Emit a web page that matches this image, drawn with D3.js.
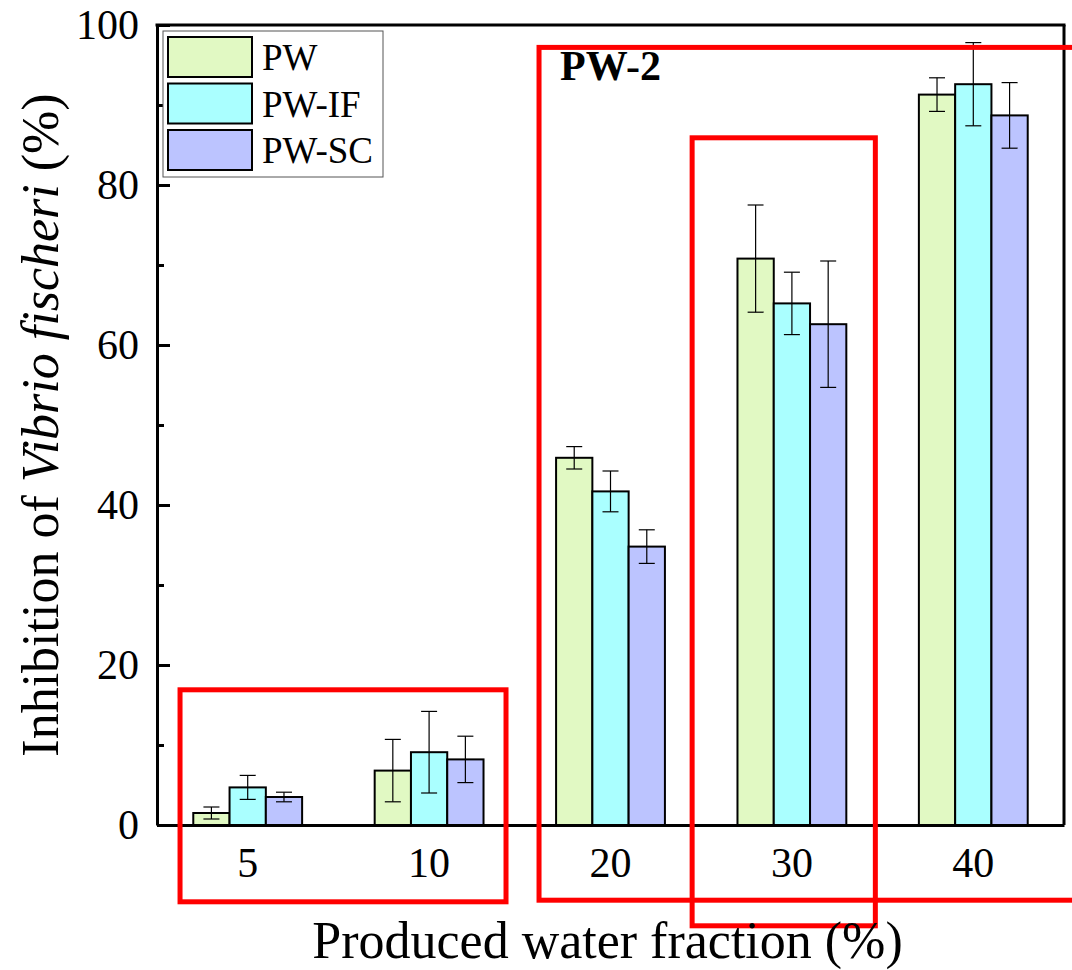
<!DOCTYPE html>
<html>
<head>
<meta charset="utf-8">
<script src="https://cdn.jsdelivr.net/npm/d3@7"></script>
<style>
  body { margin: 0; background: #fff; }
  svg { display: block; font-family: "Liberation Serif", "Times New Roman", serif; }
  svg text { font-family: "Liberation Serif", "Times New Roman", serif; }
</style>
</head>
<body>
<div id="chart"></div>
<script>
// fraction of produced water (%)
const categories = ["5", "10", "20", "30", "40"]
const seriesNames = ["PW", "PW-IF", "PW-SC"]

const pwValues = [1.5, 6.8, 45.9, 70.8, 91.3]
const pwErrors = [0.75, 3.9, 1.4, 6.7, 2.1]
const pwIfValues = [4.7, 9.1, 41.7, 65.2, 92.6]
const pwIfErrors = [1.5, 5.1, 2.55, 3.9, 5.2]
const pwScValues = [3.5, 8.2, 34.8, 62.6, 88.7]
const pwScErrors = [0.6, 2.9, 2.1, 7.9, 4.1]

const yMajorTicks = [0, 20, 40, 60, 80, 100]
const yMinorTicks = [10, 30, 50, 70, 90]

// highlight boxes, in category-index units (x) and data units (y)
const highlights = [
  { x0: 0.127, x1: 1.924, y0: -9.6, y1: 16.9 },
  { x0: 2.106, x1: 5.2, y0: -9.4, y1: 97.2 },
  { x0: 2.95, x1: 3.96, y0: -12.6, y1: 85.9 }
]

const colors = ["#e1f9c3", "#aaffff", "#bcc4ff"]

const width = 1072, height = 970
const margin = { top: 25, right: 8, bottom: 145, left: 157 }
const innerW = width - margin.left - margin.right
const innerH = height - margin.top - margin.bottom

const series = [
  { name: seriesNames[0], values: pwValues, errors: pwErrors },
  { name: seriesNames[1], values: pwIfValues, errors: pwIfErrors },
  { name: seriesNames[2], values: pwScValues, errors: pwScErrors }
]

const svg = d3.select("#chart").append("svg")
  .attr("width", width)
  .attr("height", height)

const g = svg.append("g").attr("transform", `translate(${margin.left},${margin.top})`)

const x = d3.scaleBand().domain(categories).range([0, innerW]).paddingInner(0.4).paddingOuter(0.2)
const xOuter = d3.scaleBand().domain(categories).range([0, innerW])
const xSub = d3.scaleBand().domain(seriesNames).range([0, x.bandwidth()])
const xIdx = d3.scaleLinear().domain([0, categories.length]).range([0, innerW])
const y = d3.scaleLinear().domain([0, 100]).range([innerH, 0])

// bars
const groups = g.selectAll("g.group")
  .data(categories)
  .join("g")
    .attr("class", "group")
    .attr("transform", d => `translate(${x(d)},0)`)

groups.selectAll("rect")
  .data((d, i) => series.map((s, k) => ({ name: s.name, v: s.values[i], e: s.errors[i], k })))
  .join("rect")
    .attr("x", d => xSub(d.name))
    .attr("y", d => y(d.v))
    .attr("width", xSub.bandwidth())
    .attr("height", d => y(0) - y(d.v))
    .attr("fill", d => colors[d.k])
    .attr("stroke", "#000")
    .attr("stroke-width", 2)

// error bars
const errs = groups.selectAll("g.err")
  .data((d, i) => series.map(s => ({ name: s.name, v: s.values[i], e: s.errors[i] })))
  .join("g")
    .attr("class", "err")
    .attr("transform", d => `translate(${xSub(d.name) + xSub.bandwidth() / 2},0)`)

errs.append("line")
  .attr("y1", d => y(d.v + d.e))
  .attr("y2", d => y(d.v - d.e))
  .attr("stroke", "#000").attr("stroke-width", 1.2)
errs.selectAll("line.cap")
  .data(d => [d.v + d.e, d.v - d.e])
  .join("line")
    .attr("class", "cap")
    .attr("x1", -8).attr("x2", 8)
    .attr("y1", d => y(d)).attr("y2", d => y(d))
    .attr("stroke", "#000").attr("stroke-width", 1.2)

// axes
const yAxis = g.append("g")
  .attr("font-family", null)
  .call(d3.axisLeft(y).tickValues(yMajorTicks).tickSizeInner(-13).tickSizeOuter(0).tickPadding(18))
yAxis.attr("font-family", null).attr("font-size", null)
yAxis.select(".domain").attr("stroke-width", 3)
yAxis.selectAll(".tick line").attr("stroke-width", 3)
yAxis.selectAll(".tick text")
  .attr("font-size", 42)
  .attr("fill", "#000")

g.append("g")
  .call(d3.axisLeft(y).tickValues(yMinorTicks).tickSize(-7).tickFormat(""))
  .call(a => a.select(".domain").remove())
  .selectAll(".tick line").attr("stroke-width", 3)

const xAxis = g.append("g")
  .attr("transform", `translate(0,${innerH})`)
  .call(d3.axisBottom(xOuter).tickSize(0).tickPadding(22))
xAxis.attr("font-family", null).attr("font-size", null)
xAxis.select(".domain").attr("stroke-width", 3)
xAxis.selectAll(".tick text")
  .attr("font-size", 42)
  .attr("fill", "#000")

// frame top/right
g.append("line").attr("x1", -1.5).attr("x2", innerW + 1.5).attr("y1", 0).attr("y2", 0)
  .attr("stroke", "#000").attr("stroke-width", 3)
g.append("line").attr("x1", innerW).attr("x2", innerW).attr("y1", 0).attr("y2", innerH)
  .attr("stroke", "#000").attr("stroke-width", 3)

// axis titles
svg.append("text")
  .attr("x", margin.left + innerW / 2 - 3)
  .attr("y", 958)
  .attr("text-anchor", "middle")
  .attr("font-size", 52)
  .text("Produced water fraction (%)")

const yTitle = svg.append("text")
  .attr("transform", `translate(58,${margin.top + innerH / 2}) rotate(-90)`)
  .attr("text-anchor", "middle")
  .attr("font-size", 52)
yTitle.append("tspan").text("Inhibition of ")
yTitle.append("tspan").attr("font-style", "italic").text("Vibrio fischeri")
yTitle.append("tspan").text(" (%)")

// legend
const legend = svg.append("g").attr("transform", "translate(163,31)")
legend.append("rect")
  .attr("width", 220).attr("height", 146)
  .attr("fill", "#fff").attr("stroke", "#555").attr("stroke-width", 1)
const items = legend.selectAll("g.item")
  .data(seriesNames)
  .join("g")
    .attr("class", "item")
    .attr("transform", (d, i) => `translate(5,${6 + i * 46.5})`)
items.append("rect")
  .attr("width", 84).attr("height", 40)
  .attr("fill", (d, i) => colors[i])
  .attr("stroke", "#000").attr("stroke-width", 2)
items.append("text")
  .attr("x", 94).attr("y", 33)
  .attr("font-size", 37)
  .text(d => d)

// highlight boxes
g.selectAll("rect.hl")
  .data(highlights)
  .join("rect")
    .attr("class", "hl")
    .attr("x", d => xIdx(d.x0))
    .attr("y", d => y(d.y1))
    .attr("width", d => xIdx(d.x1) - xIdx(d.x0))
    .attr("height", d => y(d.y0) - y(d.y1))
    .attr("fill", "none")
    .attr("stroke", "#ff0000")
    .attr("stroke-width", 5)

svg.append("text")
  .attr("x", 560).attr("y", 80)
  .attr("font-size", 42)
  .attr("font-weight", "bold")
  .text("PW-2")
</script>
</body>
</html>
